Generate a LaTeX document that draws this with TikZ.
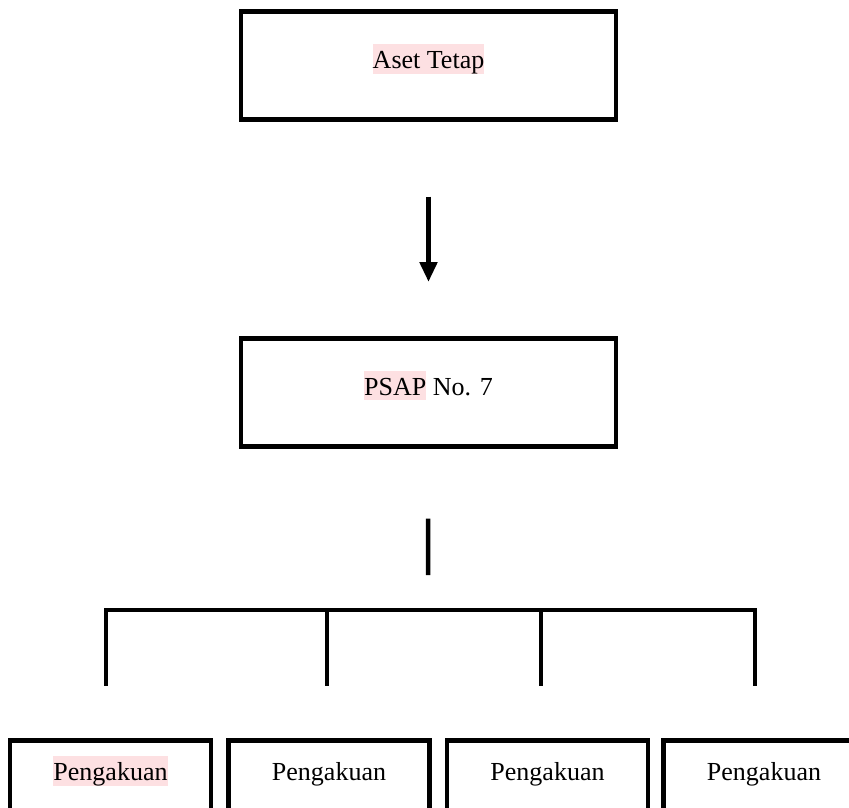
\documentclass[tikz,border=0pt]{standalone}
\usepackage{fontspec}
\setmainfont{Liberation Serif}
\usetikzlibrary{arrows.meta}
\definecolor{markpink}{RGB}{253,224,226}
\newcommand{\pinkmark}[1]{{\setlength{\fboxsep}{0pt}\colorbox{markpink}{\rule[-0.19em]{0pt}{1.11em}#1}}}

\begin{document}
\begin{tikzpicture}[x=1pt, y=-1pt, line join=miter,
    bigbox/.style={draw, line width=4.5pt, inner sep=0pt, minimum width=375pt,
        text height=57pt, text depth=51pt, font=\fontsize{26}{30}\selectfont},
    smallbox/.style={draw, line width=4.5pt, inner sep=0pt, minimum width=201pt,
        text height=40pt, text depth=80pt, font=\fontsize{26}{30}\selectfont},
    link/.style={line width=4.5pt}]
        \useasboundingbox (0,0) rectangle (849,807);
        \clip (0,0) rectangle (849,807);

        % ==== UPPER BOXES ====
        \node[bigbox, anchor=north] (aset) at (428.5,9) {\pinkmark{Aset Tetap}};
        \node[bigbox, anchor=north] (psap) at (428.5,336) {\pinkmark{PSAP} No. 7};

        % ==== ARROW ====
        \draw[line width=5.5pt, -{Triangle[width=17pt,length=20pt]},
            shorten <=75pt, shorten >=54pt] (aset) -- (psap);

        % ==== LOWER BOXES ====
        \node[smallbox, anchor=north] (pk1) at (110.5,738) {\pinkmark{Pengakuan}};
        \node[smallbox, anchor=north] (pk2) at (329,738) {Pengakuan};
        \node[smallbox, anchor=north] (pk3) at (547.5,738) {Pengakuan};
        \node[smallbox, anchor=north] (pk4) at (764,738) {Pengakuan};

        % ==== BRANCHES ====
        \coordinate (jn) at (428,610);
        \coordinate (d1) at (106,610);
        \coordinate (d2) at (327,610);
        \coordinate (d3) at (541,610);
        \coordinate (d4) at (755,610);
        \draw[link, shorten <=70pt, shorten >=35pt] (psap) -- (jn);
        \draw[link, line cap=rect] (d1) -- (d4);
        \foreach \k in {1,2,3,4}{
            \draw[link, shorten >=52pt] (d\k) -- (d\k |- pk\k.north);
        }
\end{tikzpicture}
\end{document}
